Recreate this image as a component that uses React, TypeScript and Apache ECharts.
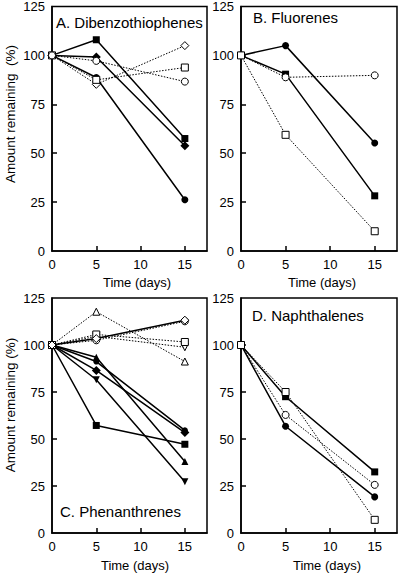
import { useEffect, useRef } from "react";
import * as echarts from "echarts";

// Time points (days)
const days = [0, 5, 15];

// Panel A: Dibenzothiophenes
const dbtFilledSquare = [100, 108, 57.5];
const dbtFilledDiamond = [100, 99.2, 53.8];
const dbtFilledCircle = [100, 88.7, 26.2];
const dbtOpenDiamond = [100, 85.2, 105];
const dbtOpenSquare = [100, 87.5, 93.8];
const dbtOpenCircle = [100, 97.2, 86.6];

// Panel B: Fluorenes
const fluFilledCircle = [100, 105, 55.2];
const fluFilledSquare = [100, 90.4, 28.2];
const fluOpenCircle = [100, 88.8, 89.8];
const fluOpenSquare = [100, 59.4, 10.1];

// Panel C: Phenanthrenes
const phenOpenTriUp = [100, 117.7, 91.2];
const phenOpenSquare = [100, 105.6, 101.6];
const phenOpenTriDown = [100, 104.6, 98.8];
const phenOpenDiamond = [100, 103.4, 113.2];
const phenOpenCircle = [100, 102.5, 112.6];
const phenFilledTriUp = [100, 93.5, 38];
const phenFilledCircle = [100, 91.2, 54.6];
const phenFilledDiamond = [100, 86.5, 53.4];
const phenFilledTriDown = [100, 81.5, 27.2];
const phenFilledSquare = [100, 57.2, 47.2];

// Panel D: Naphthalenes
const naphFilledSquare = [100, 72.5, 32.5];
const naphOpenSquare = [100, 75, 7];
const naphOpenCircle = [100, 62.8, 25.6];
const naphFilledCircle = [100, 56.8, 19.2];

// Axis ticks
const xTickValues = [0, 5, 10, 15];
const yTickValues = [0, 25, 50, 75, 100, 125];

const panelTitles = ["A. Dibenzothiophenes", "B. Fluorenes", "C. Phenanthrenes", "D. Naphthalenes"];
const xName = "Time (days)";
const yNameA = "Amount remaining  (%)";
const yNameC = "Amount remaining (%)";

const FONT = "'Liberation Sans', Arial, Helvetica, sans-serif";

type Sym = "circle" | "rect" | "diamond" | "triangle" | "triangleDown";

function mk(grid: number, values: number[], sym: Sym, filled: boolean, dotted: boolean, size = 7) {
  return {
    type: "line",
    xAxisIndex: grid,
    yAxisIndex: grid,
    data: days.map((d, i) => [d, values[i]]),
    symbol: sym === "triangleDown" ? "triangle" : sym,
    symbolRotate: sym === "triangleDown" ? 180 : 0,
    symbolSize: size,
    showSymbol: true,
    z: filled ? 3 : 4,
    lineStyle: {
      color: "#000",
      width: dotted ? 1 : 1.5,
      type: dotted ? [1.5, 1.5] : "solid",
    },
    itemStyle: {
      color: filled ? "#000" : "#fff",
      borderColor: "#000",
      borderWidth: filled ? 0 : 1,
    },
    emphasis: { disabled: true },
  };
}

const grids = [
  { left: 52, top: 3, width: 155, height: 248 },
  { left: 241, top: 3, width: 156, height: 248 },
  { left: 52, top: 298, width: 155, height: 235 },
  { left: 241, top: 298, width: 156, height: 235 },
];

function txt(x: number, y: number, text: string, size: number, align: string, rotation = 0) {
  return {
    type: "text",
    x,
    y,
    rotation,
    style: { text, fontSize: size, fontFamily: FONT, fontWeight: "normal", fill: "#000", align, verticalAlign: "middle" },
  };
}

export default function App() {
  const ref = useRef<HTMLDivElement>(null);
  useEffect(() => {
    document.body.style.margin = "0";
    const chart = echarts.init(ref.current!, null, { renderer: "svg" });
    const axisCommon = {
      axisLine: { show: true, onZero: false, lineStyle: { color: "#000", width: 1.5 } },
      axisTick: { show: true, inside: true, length: 5, lineStyle: { color: "#000", width: 1.5 } },
      splitLine: { show: false },
      axisLabel: { color: "#000", fontSize: 13, fontFamily: FONT, margin: 7 },
    };
    const option: any = {
      animation: false,
      backgroundColor: "#fff",
      grid: grids.map((g) => ({ ...g, show: true, borderColor: "#000", borderWidth: 1.5, containLabel: false })),
      xAxis: grids.map((_, i) => ({
        type: "value",
        gridIndex: i,
        min: 0,
        max: 17.5,
        interval: 5,
        ...axisCommon,
        axisTick: { ...axisCommon.axisTick, customValues: [5, 10, 15] },
        axisLabel: { ...axisCommon.axisLabel, customValues: xTickValues },
      })),
      yAxis: grids.map((_, i) => ({
        type: "value",
        gridIndex: i,
        min: 0,
        max: 125,
        interval: 25,
        ...axisCommon,
        axisTick: { ...axisCommon.axisTick, customValues: [25, 50, 75, 100] },
        axisLabel: { ...axisCommon.axisLabel, customValues: yTickValues },
      })),
      graphic: [
        txt(56, 22, panelTitles[0], 15, "left"),
        txt(253, 17, panelTitles[1], 15, "left"),
        txt(60, 511, panelTitles[2], 15, "left"),
        txt(252, 315, panelTitles[3], 15, "left"),
        txt(137, 282, xName, 13, "center"),
        txt(322, 282, xName, 13, "center"),
        txt(135, 565, xName, 13, "center"),
        txt(327, 565, xName, 13, "center"),
        txt(10, 114, yNameA, 13.5, "center", Math.PI / 2),
        txt(10, 405, yNameC, 13.5, "center", Math.PI / 2),
      ],
      series: [
        // A
        mk(0, dbtOpenDiamond, "diamond", false, true, 8),
        mk(0, dbtOpenSquare, "rect", false, true),
        mk(0, dbtOpenCircle, "circle", false, true),
        mk(0, dbtFilledSquare, "rect", true, false),
        mk(0, dbtFilledCircle, "circle", true, false),
        mk(0, dbtFilledDiamond, "diamond", true, false, 9),
        // B
        mk(1, fluOpenCircle, "circle", false, true),
        mk(1, fluOpenSquare, "rect", false, true),
        mk(1, fluFilledCircle, "circle", true, false),
        mk(1, fluFilledSquare, "rect", true, false),
        // C
        mk(2, phenFilledTriUp, "triangle", true, false),
        mk(2, phenFilledCircle, "circle", true, false, 6),
        mk(2, phenFilledDiamond, "diamond", true, false, 9),
        mk(2, phenFilledTriDown, "triangleDown", true, false),
        mk(2, phenFilledSquare, "rect", true, false),
        mk(2, phenOpenTriUp, "triangle", false, true),
        mk(2, phenOpenTriDown, "triangleDown", false, true),
        mk(2, phenOpenCircle, "circle", false, true),
        mk(2, phenOpenSquare, "rect", false, true),
        mk(2, phenOpenDiamond, "diamond", false, false, 8),
        // D
        mk(3, naphFilledSquare, "rect", true, false),
        mk(3, naphFilledCircle, "circle", true, false),
        mk(3, naphOpenCircle, "circle", false, true),
        mk(3, naphOpenSquare, "rect", false, true),
      ],
    };
    chart.setOption(option);
    return () => chart.dispose();
  }, []);
  return <div ref={ref} style={{ width: 400, height: 575 }} />;
}
